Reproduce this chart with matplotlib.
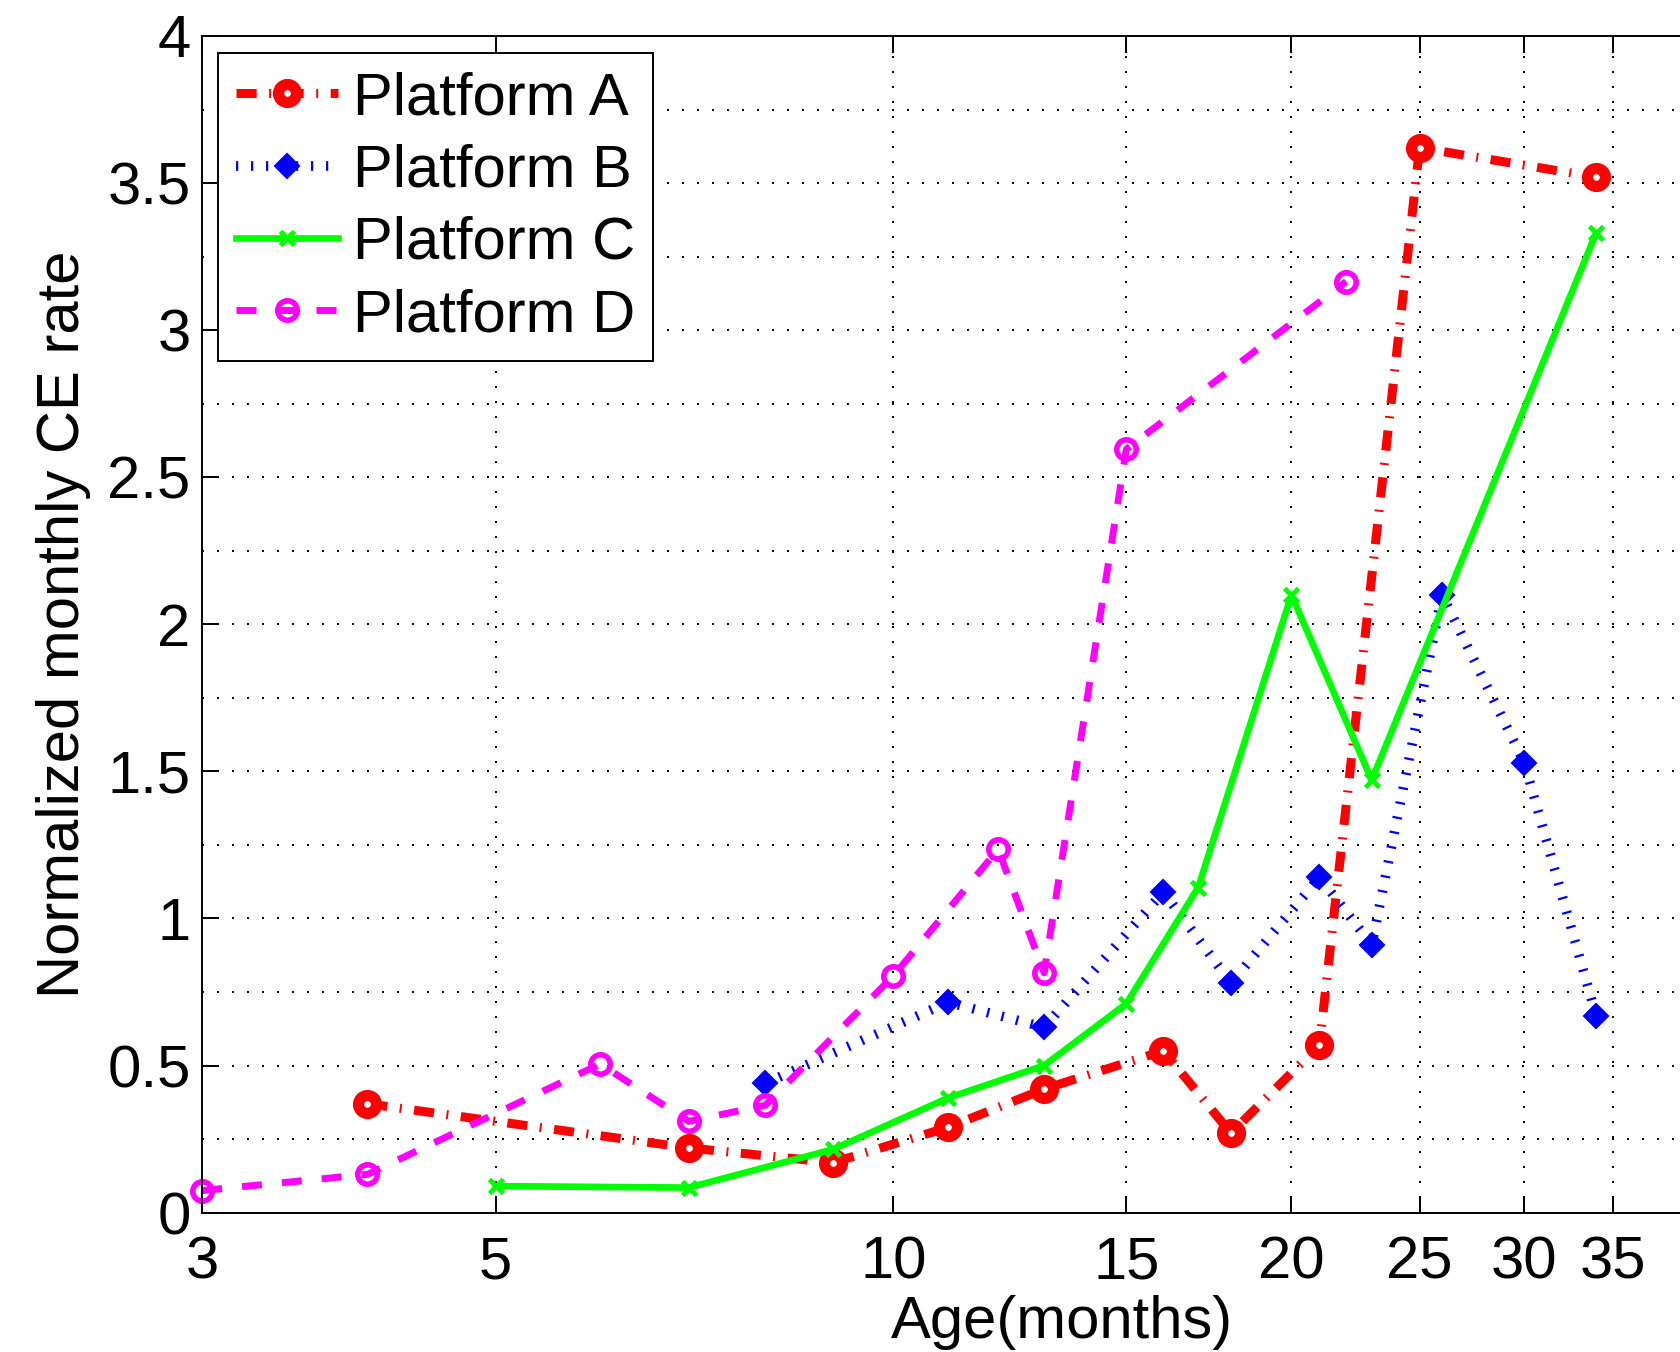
import matplotlib
matplotlib.use('Agg')
import matplotlib.pyplot as plt
from matplotlib.ticker import MultipleLocator, NullLocator

plt.rcParams['font.family'] = ['Liberation Sans', 'DejaVu Sans']
plt.rcParams['lines.scale_dashes'] = False  # dash lengths in points

# data
age_a = [4, 7, 9, 11, 13, 16, 18, 21, 25, 34]
rate_a = [0.37, 0.22, 0.17, 0.29, 0.42, 0.55, 0.27, 0.57, 3.62, 3.52]
age_b = [8, 11, 13, 16, 18, 21, 23, 26, 30, 34]
rate_b = [0.44, 0.715, 0.63, 1.09, 0.78, 1.14, 0.91, 2.10, 1.53, 0.67]
age_c = [5, 7, 9, 11, 13, 15, 17, 20, 23, 34]
rate_c = [0.09, 0.085, 0.215, 0.39, 0.50, 0.71, 1.105, 2.10, 1.47, 3.33]
age_d = [3, 4, 6, 7, 8, 10, 12, 13, 15, 22]
rate_d = [0.075, 0.13, 0.505, 0.31, 0.365, 0.805, 1.235, 0.815, 2.595, 3.165]

xticks = [3, 5, 10, 15, 20, 25, 30, 35]
yticks = [0, 0.5, 1, 1.5, 2, 2.5, 3, 3.5, 4]
ytick_labels = ['0', '0.5', '1', '1.5', '2', '2.5', '3', '3.5', '4']

fs = 43

fig = plt.figure(figsize=(16.81, 13.52), dpi=100)
# axes runs past the right edge of the picture (cropped like the original)
ax = fig.add_axes([0.1203, 0.1031, 1.0232, 0.8703])

ax.plot(age_a, rate_a, color='red', lw=6.5, ls=(0, (14.5, 9.0, 1.4, 9.0)),
        marker='o', ms=13, mew=8, mfc='white', mec='red',
        label='Platform A', clip_on=False)
ax.plot(age_b, rate_b, color='blue', lw=7, ls=(0, (1.6, 9.2)),
        marker='D', ms=12, mew=1.5, mfc='blue', mec='blue',
        label='Platform B', clip_on=False)
ax.plot(age_c, rate_c, color='#00ff00', lw=4.8, ls='-',
        marker='x', ms=10, mew=3.5,
        label='Platform C', clip_on=False)
ax.plot(age_d, rate_d, color='magenta', lw=5, ls=(0, (14.4, 14.4)),
        marker='o', ms=14, mew=4, mfc='none', mec='magenta',
        label='Platform D', clip_on=False)

ax.set_xscale('log')
ax.set_xlim(3, 60)
ax.set_ylim(0, 4)
ax.set_xticks(xticks, labels=[str(t) for t in xticks])
ax.xaxis.set_minor_locator(NullLocator())
ax.set_yticks(yticks, labels=ytick_labels)
ax.yaxis.set_minor_locator(MultipleLocator(0.25))

ax.tick_params(which='major', direction='in', length=12, width=1.4,
               top=True, right=True, labelsize=fs)
ax.tick_params(axis='x', which='major', pad=16.8)
ax.tick_params(axis='y', which='major', pad=8.4)
ax.tick_params(which='minor', length=0)

dots = (0, (1.4, 9.4))
ax.grid(True, which='major', color='black', lw=1.4, ls=dots)
ax.grid(True, which='minor', axis='y', color='black', lw=1.4, ls=dots)

for sp in ax.spines.values():
    sp.set_linewidth(1.4)

ax.set_xlabel('Age(months)', fontsize=fs, labelpad=3)
ax.set_ylabel('Normalized monthly CE rate', fontsize=fs, labelpad=12)

leg = ax.legend(loc='upper left', bbox_to_anchor=(0.0093, 0.9853),
                borderaxespad=0, fontsize=fs, numpoints=1,
                handlelength=1.7, handletextpad=0.25, borderpad=0.3,
                labelspacing=0.29, fancybox=False, framealpha=1,
                edgecolor='black')
leg.get_frame().set_linewidth(1.4)

fig.savefig('out.png', dpi=100)
